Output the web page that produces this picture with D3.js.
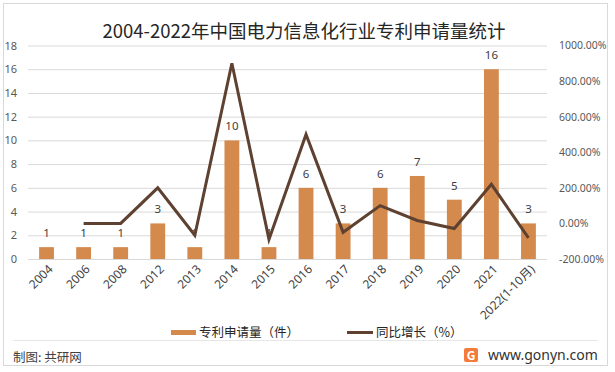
<!DOCTYPE html>
<html>
<head>
<meta charset="utf-8">
<script src="https://cdn.jsdelivr.net/npm/d3@7"></script>
<style>
  body { margin: 0; background: #fff; }
  svg { display: block; font-family: "Noto Sans CJK SC", "Noto Sans", sans-serif; }
</style>
</head>
<body>
<div id="chart"></div>
<script>
// 数据
const years = ["2004", "2006", "2008", "2012", "2013", "2014", "2015", "2016", "2017", "2018", "2019", "2020", "2021", "2022(1-10月)"];
const patents = [1, 1, 1, 3, 1, 10, 1, 6, 3, 6, 7, 5, 16, 3];
const growth = [null, 0, 0, 200, -66.67, 900, -90, 500, -50, 100, 16.67, -28.57, 220, -81.25];
const leftTicks = [0, 2, 4, 6, 8, 10, 12, 14, 16, 18];
const rightTicks = [-200, 0, 200, 400, 600, 800, 1000];

const W = 615, H = 372;
const barColor = "#D48A4D", lineColor = "#5E4130";

const svg = d3.select("#chart").append("svg")
    .attr("width", W)
    .attr("height", H);

// 外框
svg.append("rect")
    .attr("x", 3.5).attr("y", 3.5)
    .attr("width", 604).attr("height", 362)
    .attr("fill", "#fff")
    .attr("stroke", "#d9d9d9");

// 标题
svg.append("text")
    .attr("x", 304).attr("y", 38)
    .attr("text-anchor", "middle")
    .style("font-size", "18.5px")
    .attr("fill", "#262626")
    .text("2004-2022年中国电力信息化行业专利申请量统计");

// 比例尺
const x = d3.scaleBand().domain(years).range([28, 547]).paddingInner(0.6).paddingOuter(0.3);
const yL = d3.scaleLinear().domain([0, 18]).range([259, 45.5]);
const yR = d3.scaleLinear().domain([-200, 1000]).range([259, 45.5]);

// 网格线 + 左轴
const gl = svg.append("g")
    .attr("transform", "translate(28,0)")
    .call(d3.axisLeft(yL).tickValues(leftTicks).tickSize(-519).tickPadding(11));
gl.select(".domain").remove();
gl.selectAll(".tick line").attr("stroke", "#d9d9d9");
gl.selectAll(".tick text")
    .attr("fill", "#595959")
    .style("font-size", "11px")
    .style("font-family", "'Noto Sans', sans-serif");

// 右轴
const gr = svg.append("g")
    .attr("transform", "translate(547,0)")
    .call(d3.axisRight(yR).tickValues(rightTicks).tickSize(0).tickPadding(12)
        .tickFormat(d => d.toFixed(2) + "%"));
gr.select(".domain").remove();
gr.selectAll(".tick text")
    .attr("fill", "#595959")
    .style("font-size", "10.5px")
    .style("font-family", "'Noto Sans', sans-serif");

// X轴标签
const gx = svg.append("g")
    .attr("transform", "translate(0,259)")
    .call(d3.axisBottom(x).tickSize(0).tickPadding(0));
gx.select(".domain").remove();
gx.selectAll(".tick text")
    .attr("fill", "#404040")
    .style("font-size", "12px")
    .style("font-family", "'Noto Sans', 'Noto Sans CJK SC', sans-serif")
    .attr("text-anchor", "end")
    .attr("dy", 0)
    .attr("transform", "translate(7,11) rotate(-45)");

// 柱子
svg.selectAll(".bar")
    .data(patents)
    .enter().append("rect")
    .attr("class", "bar")
    .attr("x", (d, i) => x(years[i]))
    .attr("width", x.bandwidth())
    .attr("y", d => yL(d))
    .attr("height", d => yL(0) - yL(d))
    .attr("fill", barColor);

// 数据标签
svg.selectAll(".lbl")
    .data(patents)
    .enter().append("text")
    .attr("class", "lbl")
    .attr("x", (d, i) => x(years[i]) + x.bandwidth() / 2)
    .attr("y", d => yL(d) - 10)
    .attr("text-anchor", "middle")
    .attr("fill", "#404040")
    .style("font-size", "11.5px")
    .style("font-family", "'Noto Sans', sans-serif")
    .text(d => d);

// 折线
const line = d3.line()
    .defined(d => d !== null)
    .x((d, i) => x(years[i]) + x.bandwidth() / 2)
    .y(d => yR(d));

svg.append("path")
    .datum(growth)
    .attr("d", line)
    .attr("fill", "none")
    .attr("stroke", lineColor)
    .attr("stroke-width", 3);

// 图例
svg.append("rect")
    .attr("x", 171).attr("y", 330)
    .attr("width", 25).attr("height", 5)
    .attr("fill", barColor);
svg.append("text")
    .attr("x", 199).attr("y", 337)
    .style("font-size", "12.5px")
    .attr("fill", "#262626")
    .text("专利申请量（件）");
svg.append("line")
    .attr("x1", 347).attr("x2", 373)
    .attr("y1", 332.5).attr("y2", 332.5)
    .attr("stroke", lineColor)
    .attr("stroke-width", 3);
svg.append("text")
    .attr("x", 376).attr("y", 337)
    .style("font-size", "12.5px")
    .attr("fill", "#262626")
    .text("同比增长（%）");

// 分隔线
svg.append("line")
    .attr("x1", 13).attr("x2", 598)
    .attr("y1", 340.5).attr("y2", 340.5)
    .attr("stroke", "#e6e6e6");

// 页脚
svg.append("text")
    .attr("x", 13).attr("y", 362)
    .style("font-size", "12.5px")
    .attr("fill", "#404040")
    .text("制图: 共研网");

const logo = svg.append("g").attr("transform", "translate(464,348)");
logo.append("rect")
    .attr("width", 14).attr("height", 14).attr("rx", 2)
    .attr("fill", "#F37B3B");
logo.append("text")
    .attr("x", 7).attr("y", 12)
    .attr("text-anchor", "middle")
    .style("font-size", "12px")
    .style("font-weight", "bold")
    .attr("fill", "#fff")
    .text("G");

svg.append("text")
    .attr("x", 488).attr("y", 360)
    .style("font-size", "14px")
    .style("font-family", "'Noto Sans', sans-serif")
    .attr("fill", "#333")
    .text("www.gonyn.com");
</script>
</body>
</html>
